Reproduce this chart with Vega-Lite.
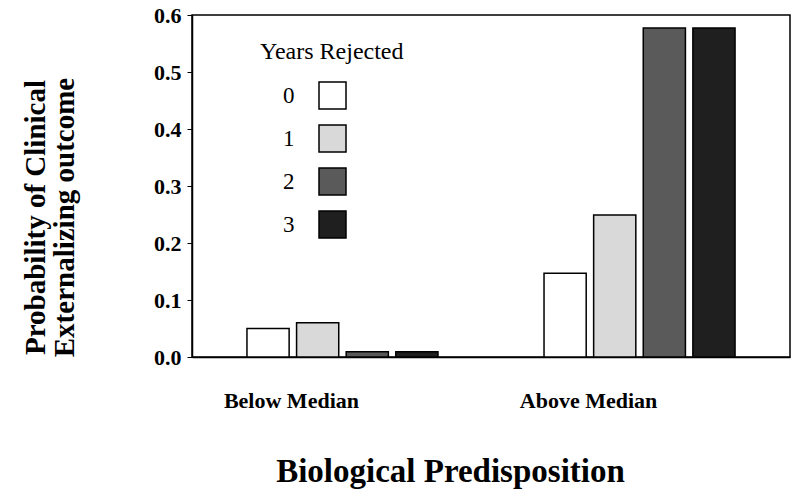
{
  "$schema": "https://vega.github.io/schema/vega-lite/v6.json",
  "width": 598,
  "height": 342,
  "autosize": {"type": "none"},
  "padding": {"left": 192, "top": 15, "right": 10, "bottom": 143},
  "background": "white",
  "config": {
    "font": "Liberation Serif",
    "view": {"stroke": "black", "strokeWidth": 1.5},
    "axis": {"domainColor": "black", "domainWidth": 1.5, "grid": false, "tickColor": "black", "labelColor": "black", "titleColor": "black"}
  },
  "data": {
    "values": [
      {"group": "Below Median", "years": "0", "prob": 0.05},
      {"group": "Below Median", "years": "1", "prob": 0.06},
      {"group": "Below Median", "years": "2", "prob": 0.009},
      {"group": "Below Median", "years": "3", "prob": 0.009},
      {"group": "Above Median", "years": "0", "prob": 0.147},
      {"group": "Above Median", "years": "1", "prob": 0.249},
      {"group": "Above Median", "years": "2", "prob": 0.577},
      {"group": "Above Median", "years": "3", "prob": 0.577}
    ]
  },
  "mark": {"type": "bar", "stroke": "black", "strokeWidth": 1.5},
  "encoding": {
    "x": {
      "field": "group",
      "type": "nominal",
      "sort": ["Below Median", "Above Median"],
      "scale": {"paddingInner": 0.357, "paddingOuter": 0.185},
      "axis": {
        "labelAngle": 0,
        "ticks": false,
        "labelOffset": -51,
        "labelPadding": 33,
        "labelBaseline": "top",
        "labelFontSize": 22,
        "labelFontWeight": "bold",
        "title": "Biological Predisposition",
        "titleFontSize": 33,
        "titleFontWeight": "bold",
        "titleX": 258,
        "titleY": 98,
        "titleBaseline": "top",
        "titleAlign": "center"
      }
    },
    "xOffset": {
      "field": "years",
      "type": "nominal",
      "scale": {"paddingInner": 0.15, "paddingOuter": 0}
    },
    "y": {
      "field": "prob",
      "type": "quantitative",
      "scale": {"domain": [0, 0.6], "nice": false},
      "axis": {
        "values": [0, 0.1, 0.2, 0.3, 0.4, 0.5, 0.6],
        "format": ".1f",
        "tickSize": 5,
        "labelPadding": 6,
        "labelFontSize": 22,
        "labelFontWeight": "bold",
        "title": ["Probability of Clinical", "Externalizing outcome"],
        "titleFontSize": 29,
        "titleFontWeight": "bold",
        "titleAngle": -90,
        "titleX": -171,
        "titleY": 202,
        "titleAlign": "center",
        "titleBaseline": "top",
        "titleLineHeight": 29
      }
    },
    "fill": {
      "field": "years",
      "type": "nominal",
      "scale": {"domain": ["0", "1", "2", "3"], "range": ["#ffffff", "#d9d9d9", "#5a5a5a", "#1f1f1f"]},
      "legend": {
        "orient": "none",
        "legendX": 68,
        "legendY": 25,
        "title": "Years Rejected",
        "titleFontSize": 24,
        "titleFontWeight": "normal",
        "titlePadding": 17,
        "symbolType": "square",
        "symbolSize": 729,
        "symbolStrokeColor": "black",
        "symbolStrokeWidth": 1.5,
        "symbolOffset": 58,
        "labelOffset": -64,
        "labelFontSize": 23,
        "rowPadding": 10
      }
    }
  }
}
